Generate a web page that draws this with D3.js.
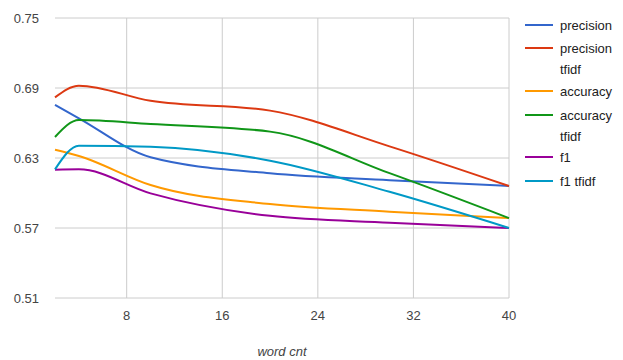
<!DOCTYPE html>
<html lang="en">
<head>
  <meta charset="UTF-8">
  <title>word cnt chart</title>
  <script src="https://d3js.org/d3.v7.min.js"></script>
  <style>
    body { margin: 0; background: #fff; }
    svg text { font-family: Arial, "Liberation Sans", sans-serif; font-size: 13px; fill: #444; }
    svg .legend text { fill: #222; }
  </style>
</head>
<body>
  <script>
    // x values (word cnt) and one array per series
    var wordCnt = [2, 4, 10, 20, 30, 40];
    var precision      = [0.6755, 0.664, 0.6306, 0.6169, 0.611, 0.606];
    var precisionTfidf = [0.682, 0.692, 0.679, 0.6706, 0.640, 0.606];
    var accuracy       = [0.637, 0.6317, 0.6068, 0.5905, 0.584, 0.5785];
    var accuracyTfidf  = [0.648, 0.6626, 0.6592, 0.6526, 0.617, 0.5785];
    var f1             = [0.620, 0.6203, 0.5997, 0.5804, 0.5746, 0.570];
    var f1Tfidf        = [0.6203, 0.6406, 0.6397, 0.6277, 0.601, 0.570];

    var seriesNames = ["precision", "precision tfidf", "accuracy", "accuracy tfidf", "f1", "f1 tfidf"];
    var seriesVals  = [precision, precisionTfidf, accuracy, accuracyTfidf, f1, f1Tfidf];
    var colors = ["#3366cc", "#dc3912", "#ff9900", "#109618", "#990099", "#0099c6"];

    var yTicks = [0.51, 0.57, 0.63, 0.69, 0.75];
    var xTicks = [8, 16, 24, 32, 40];

    var width = 623, height = 360;
    var plotL = 55, plotR = 509, plotT = 18, plotB = 298;

    var svg = d3.select("body").append("svg")
      .attr("width", width)
      .attr("height", height);

    var x = d3.scaleLinear().domain([2, 40]).range([plotL, plotR]);
    var y = d3.scaleLinear().domain([0.51, 0.75]).range([plotB, plotT]);

    // gridlines
    svg.selectAll("line.hgrid").data(yTicks).enter().append("line")
      .attr("x1", plotL).attr("x2", plotR)
      .attr("y1", function(d) { return y(d); })
      .attr("y2", function(d) { return y(d); })
      .attr("stroke", "#ccc").attr("stroke-width", 1);

    svg.selectAll("line.vgrid").data(xTicks).enter().append("line")
      .attr("y1", plotT).attr("y2", plotB)
      .attr("x1", function(d) { return x(d); })
      .attr("x2", function(d) { return x(d); })
      .attr("stroke", "#ccc").attr("stroke-width", 1);

    // tick labels
    svg.selectAll("text.ylab").data(yTicks).enter().append("text")
      .attr("x", 39)
      .attr("y", function(d) { return y(d) + 5; })
      .attr("text-anchor", "end")
      .text(function(d) { return d3.format(".2f")(d); });

    svg.selectAll("text.xlab").data(xTicks).enter().append("text")
      .attr("x", function(d) { return x(d); })
      .attr("y", 320)
      .attr("text-anchor", "middle")
      .text(function(d) { return d; });

    svg.append("text")
      .attr("x", (plotL + plotR) / 2)
      .attr("y", 356)
      .attr("text-anchor", "middle")
      .style("font-style", "italic")
      .text("word cnt");

    // lines
    var line = d3.line()
      .x(function(d, i) { return x(wordCnt[i]); })
      .y(function(d) { return y(d); })
      .curve(d3.curveMonotoneX);

    seriesVals.forEach(function(vals, k) {
      svg.append("path")
        .attr("d", line(vals))
        .attr("fill", "none")
        .attr("stroke", colors[k])
        .attr("stroke-width", 2);
    });

    // legend (long labels wrap onto a second line)
    var legendY = [25, 48, 91, 115, 157, 181];
    seriesNames.forEach(function(name, k) {
      var g = svg.append("g").attr("class", "legend")
        .attr("transform", "translate(525," + legendY[k] + ")");
      g.append("line").attr("x1", 0).attr("x2", 28).attr("y1", 0).attr("y2", 0)
        .attr("stroke", colors[k]).attr("stroke-width", 2);
      var rows = name.length > 9 ? name.split(" ") : [name];
      rows.forEach(function(w, j) {
        g.append("text").attr("x", 35).attr("y", 5 + j * 21).text(w);
      });
    });
  </script>
</body>
</html>
